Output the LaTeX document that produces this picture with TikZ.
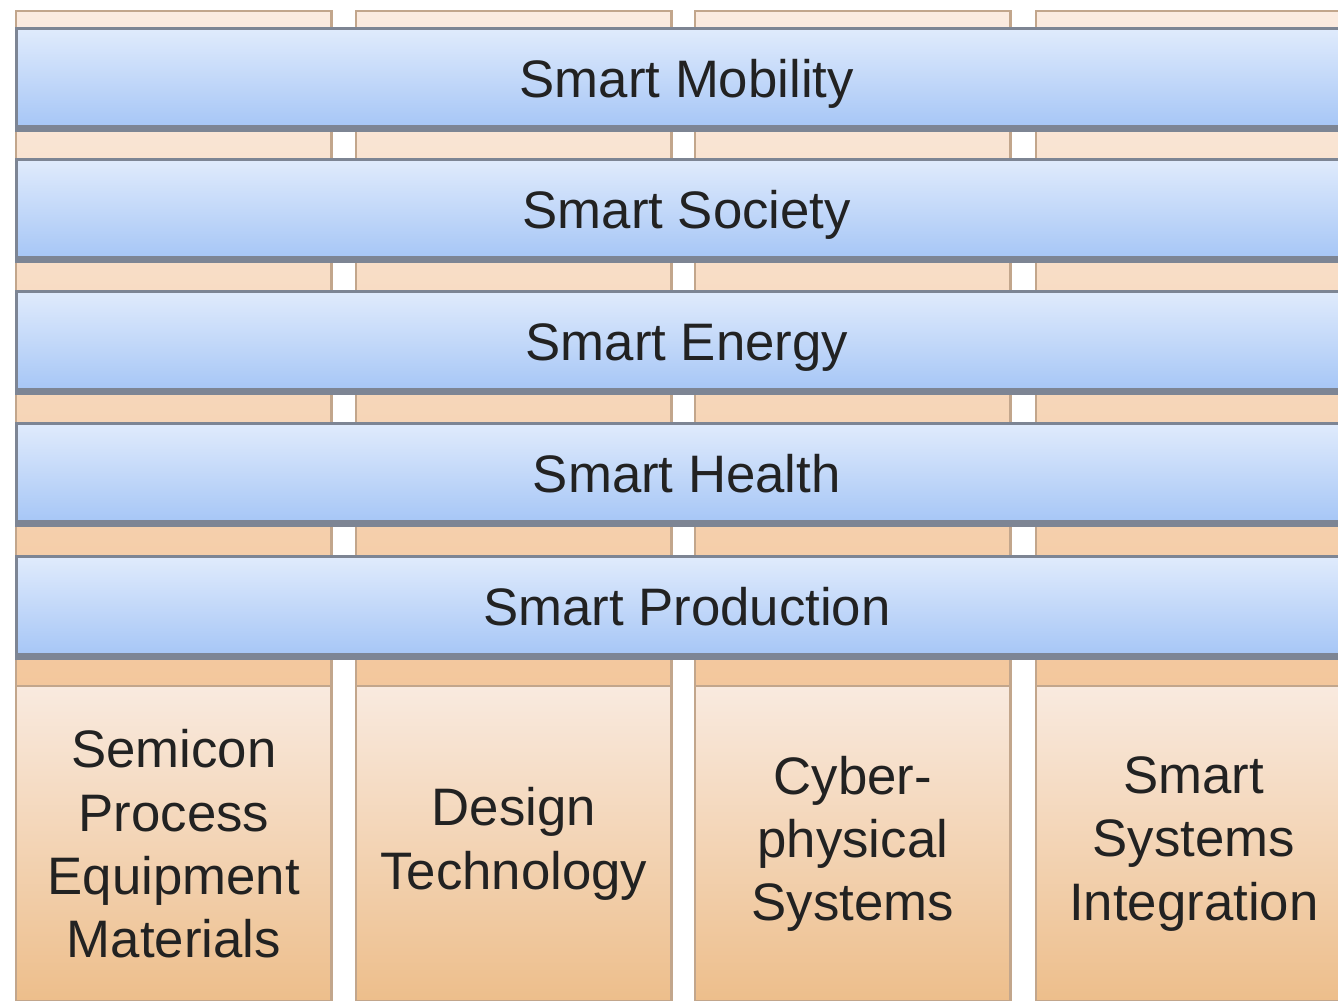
\documentclass[tikz,border=0pt]{standalone}
\usepackage{fontspec}
\setmainfont{Liberation Sans}
\usetikzlibrary{positioning}
\definecolor{PillarTop}{HTML}{FBEBE0}
\definecolor{PillarLow}{HTML}{F3C79C}
\definecolor{BoxTop}{HTML}{F9EADF}
\definecolor{BoxLow}{HTML}{EDBE8B}
\definecolor{PillarEdge}{HTML}{C2A68C}
\definecolor{BandTop}{HTML}{E0EBFC}
\definecolor{BandLow}{HTML}{A6C6F6}
\definecolor{BandEdge}{HTML}{7D8594}
\definecolor{TextClr}{HTML}{222222}

\begin{document}
\begin{tikzpicture}[x=0.01cm,y=-0.01cm,
  pillar/.style={anchor=north west,minimum width=3.15cm,minimum height=6.75cm,
    inner sep=0pt,draw=PillarEdge,line width=0.7pt,top color=PillarTop,bottom color=PillarLow},
  pillarbox/.style={anchor=north west,minimum width=3.15cm,minimum height=3.15cm,
    inner sep=0pt,draw=PillarEdge,line width=0.7pt,top color=BoxTop,bottom color=BoxLow,
    text width=3.1cm,align=center,text=TextClr,font=\fontsize{15}{18}\selectfont},
  band/.style={anchor=north west,minimum width=13.4cm,minimum height=0.99cm,
    inner sep=0pt,draw=BandEdge,line width=0.8pt,top color=BandTop,bottom color=BandLow,
    text height=0.4cm,text depth=0pt,text=TextClr,font=\fontsize{15}{18}\selectfont},
  bandshadow/.style={draw=BandEdge,line width=2pt}]
\clip (0,0) rectangle (1338,1001);
\fill[white] (0,0) rectangle (1338,1001);

% pillars behind the bands
\node[pillar] (p1) at (15,10) {};
\node[pillar] (p2) at (355,10) {};
\node[pillar] (p3) at (694,10) {};
\node[pillar] (p4) at (1035,10) {};

% bottom boxes
\node[pillarbox] (semicon) at (15,685) {Semicon\\Process\\Equipment\\Materials};
\node[pillarbox] (design) at (355,685) {Design\\Technology};
\node[pillarbox] (cps) at (694,685) {Cyber-\\physical\\Systems};
\node[pillarbox] (ssi) at (1035,685) {Smart\\Systems\\Integration};

% bands
\node[band] (mobility) at (15,27) {Smart Mobility};
\node[band] (society) at (15,158) {Smart Society};
\node[band] (energy) at (15,290) {Smart Energy};
\node[band] (health) at (15,422) {Smart Health};
\node[band] (production) at (15,555) {Smart Production};

\draw[bandshadow] (mobility.south west) -- (mobility.south east);
\draw[bandshadow] (society.south west) -- (society.south east);
\draw[bandshadow] (energy.south west) -- (energy.south east);
\draw[bandshadow] (health.south west) -- (health.south east);
\draw[bandshadow] (production.south west) -- (production.south east);

\end{tikzpicture}
\end{document}
